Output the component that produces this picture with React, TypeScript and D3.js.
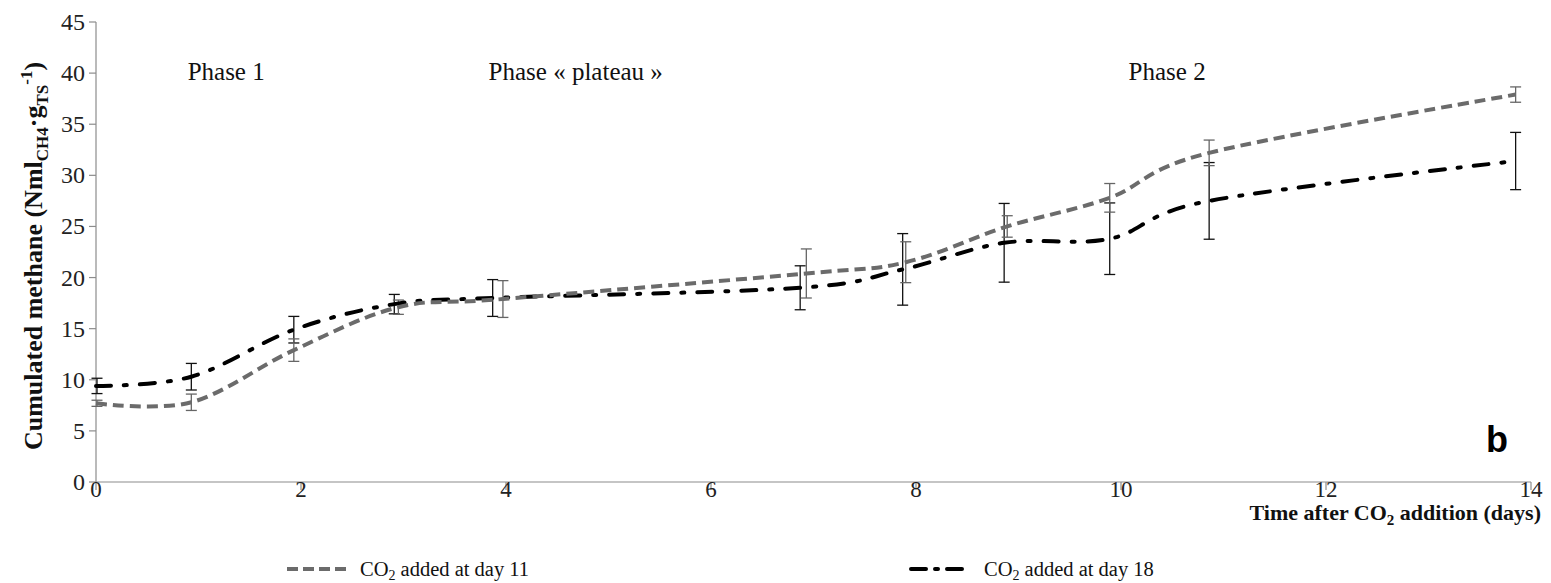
import React from "react";
import * as d3 from "d3";

const xTicks = [0, 2, 4, 6, 8, 10, 12, 14];
const yTicks = [0, 5, 10, 15, 20, 25, 30, 35, 40, 45];

const greyX = [0, 0.93, 1.93, 2.95, 3.97, 6.93, 7.9, 8.89, 9.89, 10.86, 13.85];
const greyY = [7.7, 7.8, 12.9, 17.1, 17.9, 20.4, 21.5, 25.0, 27.8, 32.2, 37.9];
const greyErr = [0.3, 0.8, 1.1, 0.7, 1.8, 2.4, 2.0, 1.05, 1.4, 1.25, 0.75];

const blackX = [0, 0.93, 1.93, 2.91, 3.87, 6.87, 7.87, 8.86, 9.89, 10.86, 13.85];
const blackY = [9.4, 10.3, 14.9, 17.4, 18.0, 19.0, 20.8, 23.4, 23.8, 27.5, 31.4];
const blackErr = [0.75, 1.3, 1.3, 0.95, 1.8, 2.15, 3.5, 3.85, 3.5, 3.75, 2.8];

const phases = [
  { label: "Phase 1", x: 1.27 },
  { label: "Phase « plateau »", x: 4.68 },
  { label: "Phase 2", x: 10.45 },
];

const W = 1551;
const H = 583;
const serif = "'Liberation Serif', 'Times New Roman', serif";

export default function App() {
  const x = d3.scaleLinear().domain([0, 14]).range([96, 1531]);
  const y = d3.scaleLinear().domain([0, 45]).range([482, 22]);

  const line = d3
    .line<[number, number]>()
    .x((d) => x(d[0]))
    .y((d) => y(d[1]))
    .curve(d3.curveCardinal.tension(0));

  const greyPts = greyX.map((v, i) => [v, greyY[i]] as [number, number]);
  const blackPts = blackX.map((v, i) => [v, blackY[i]] as [number, number]);

  const greyCol = "#6b6b6b";
  const errGrey = "#666";
  const axisCol = "#8c8c8c";
  const cap = 5.5;

  const errBars = (xs: number[], ys: number[], es: number[], col: string, key: string) =>
    xs.map((xv, i) => {
      const cx = x(xv) + (xv === 0 ? 1 : 0);
      const t = y(ys[i] + es[i]);
      const b = y(ys[i] - es[i]);
      return (
        <g key={key + i} stroke={col} strokeWidth={1.3}>
          <line x1={cx} x2={cx} y1={t} y2={b} />
          <line x1={cx - cap} x2={cx + cap} y1={t} y2={t} />
          <line x1={cx - cap} x2={cx + cap} y1={b} y2={b} />
        </g>
      );
    });

  return (
    <svg
      width={W}
      height={H}
      style={{ position: "absolute", left: 0, top: 0, background: "#fff" }}
    >
      {/* axes */}
      <line x1={x(0)} x2={x(0)} y1={y(0)} y2={y(45)} stroke={axisCol} strokeWidth={1.2} />
      <line x1={x(0)} x2={x(14)} y1={y(0)} y2={y(0)} stroke={axisCol} strokeWidth={1.2} />
      {yTicks.map((t) => (
        <g key={"yt" + t}>
          <line x1={x(0) - 7} x2={x(0)} y1={y(t)} y2={y(t)} stroke={axisCol} strokeWidth={1.2} />
          <text
            x={85}
            y={y(t) + 8}
            textAnchor="end"
            fontFamily={serif}
            fontSize={24}
            fill="#222"
          >
            {t}
          </text>
        </g>
      ))}
      {xTicks.map((t) => (
        <g key={"xt" + t}>
          <line x1={x(t)} x2={x(t)} y1={y(0)} y2={y(0) + 8} stroke={axisCol} strokeWidth={1.2} />
          <text
            x={x(t)}
            y={497}
            textAnchor="middle"
            fontFamily={serif}
            fontSize={23}
            fill="#222"
          >
            {t}
          </text>
        </g>
      ))}

      {/* y axis title */}
      <text
        transform="translate(42,256) rotate(-90)"
        textAnchor="middle"
        fontFamily={serif}
        fontWeight="bold"
        fontSize={26}
        fill="#111"
      >
        <tspan>Cumulated methane (Nml</tspan>
        <tspan fontSize={17} dy={6}>CH4</tspan>
        <tspan dy={-6}>·g</tspan>
        <tspan fontSize={17} dy={6}>TS</tspan>
        <tspan fontSize={17} dy={-16}>-1</tspan>
        <tspan dy={10}>)</tspan>
      </text>

      {/* x axis title */}
      <text
        x={1541}
        y={520}
        textAnchor="end"
        fontFamily={serif}
        fontWeight="bold"
        fontSize={22}
        fill="#111"
      >
        <tspan>Time after CO</tspan>
        <tspan fontSize={15} dy={5}>2</tspan>
        <tspan dy={-5}> addition (days)</tspan>
      </text>

      {/* phase labels */}
      {phases.map((p) => (
        <text
          key={p.label}
          x={x(p.x)}
          y={80}
          textAnchor="middle"
          fontFamily={serif}
          fontSize={25}
          fill="#111"
        >
          {p.label}
        </text>
      ))}

      {/* error bars */}
      {errBars(blackX, blackY, blackErr, "#111", "be")}
      {errBars(greyX, greyY, greyErr, errGrey, "ge")}

      {/* lines */}
      <path
        d={line(blackPts) || ""}
        fill="none"
        stroke="#000"
        strokeWidth={4}
        strokeDasharray="15 13 3 13"
        strokeLinecap="round"
      />
      <path
        d={line(greyPts) || ""}
        fill="none"
        stroke={greyCol}
        strokeWidth={4}
        strokeDasharray="11 6"
      />

      {/* b label */}
      <text
        x={1497}
        y={452}
        textAnchor="middle"
        fontFamily="'Liberation Sans', Arial, sans-serif"
        fontWeight="bold"
        fontSize={36}
        fill="#000"
      >
        b
      </text>

      {/* legend */}
      <line x1={287} x2={346} y1={569} y2={569} stroke={greyCol} strokeWidth={4} strokeDasharray="11 5" />
      <text x={360} y={576} fontFamily={serif} fontSize={20.5} fill="#111">
        <tspan>CO</tspan>
        <tspan fontSize={14} dy={4}>2</tspan>
        <tspan dy={-4}> added at day 11</tspan>
      </text>
      <line
        x1={911}
        x2={968}
        y1={569}
        y2={569}
        stroke="#000"
        strokeWidth={4}
        strokeDasharray="15 9 3 9"
        strokeLinecap="round"
      />
      <text x={984} y={576} fontFamily={serif} fontSize={20.5} fill="#111">
        <tspan>CO</tspan>
        <tspan fontSize={14} dy={4}>2</tspan>
        <tspan dy={-4}> added at day 18</tspan>
      </text>
    </svg>
  );
}
